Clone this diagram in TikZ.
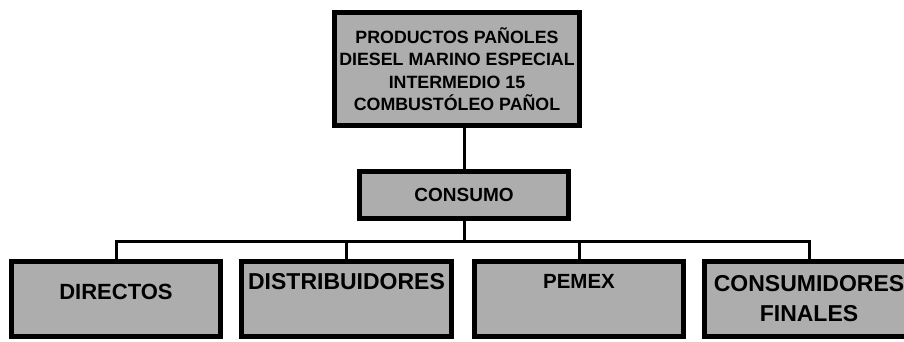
\documentclass[tikz,border=0pt]{standalone}
\usepackage{fontspec}
\setmainfont{Liberation Sans}
\begin{document}
\begin{tikzpicture}[x=1pt,y=-1pt,
  box/.style={draw=black, line width=4.5pt, fill=black!32, inner sep=0pt, align=center,
    font=\bfseries\fontsize{22}{26}\selectfont, text=black},
  conn/.style={draw=black, line width=3pt}]
\useasboundingbox[fill=white] (0,0) rectangle (904,341);
\node[box, minimum width=245pt, minimum height=113pt, font=\bfseries\fontsize{17.8}{22.5}\selectfont] (top) at (457,69)
  {PRODUCTOS PAÑOLES\\DIESEL MARINO ESPECIAL\\INTERMEDIO 15\\COMBUSTÓLEO PAÑOL};
\node[box, minimum width=209pt, minimum height=47pt, font=\bfseries\fontsize{19}{22}\selectfont] (cons) at (464,195) {CONSUMO};
\node[box, minimum width=209pt, minimum height=75pt] (d1) at (116,299) {DIRECTOS\\[-20pt]\strut};
\node[box, minimum width=210pt, minimum height=75pt, font=\bfseries\fontsize{23}{26}\selectfont] (d2) at (346.5,299) {DISTRIBUIDORES\\[1pt]\strut};
\node[box, minimum width=209pt, minimum height=75pt, font=\bfseries\fontsize{20.5}{26}\selectfont] (d3) at (579,299) {PEMEX\\[1pt]\strut};
\node[box, minimum width=209pt, minimum height=75pt, font=\bfseries\fontsize{23}{30}\selectfont] (d4) at (809,299) {CONSUMIDORES\\FINALES};
\coordinate (bus) at (464,241);
\draw[conn] (top.south -| cons.north) -- (cons.north);
\draw[conn] (cons.south) -- (bus);
\draw[conn] (d1.north) |- (bus) -| (d4.north);
\draw[conn] (d2.north) -- (d2.north |- bus);
\draw[conn] (d3.north) -- (d3.north |- bus);
\end{tikzpicture}
\end{document}
